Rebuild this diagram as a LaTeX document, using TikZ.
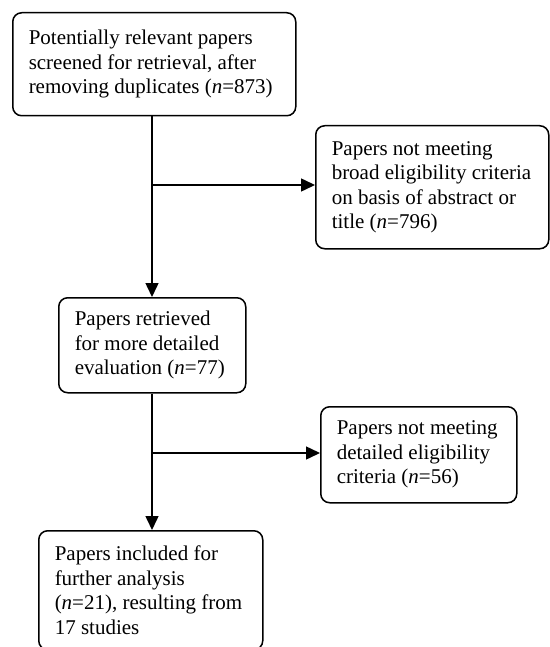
\documentclass[tikz,border=0pt]{standalone}
\usepackage{fontspec}
\setmainfont{Liberation Serif}
\usetikzlibrary{arrows.meta}

\begin{document}
\begin{tikzpicture}[x=1pt, y=-1pt, line width=1.5pt,
		box/.style={draw, rounded corners=9pt, anchor=north west, align=flush left,
			inner xsep=16pt, inner ysep=0pt,
			font=\fontsize{21}{24.5}\selectfont},
		arr/.style={-{Triangle[length=14pt, width=13pt]}}]
		\useasboundingbox (0, 0) rectangle (549, 647);
		
		\node[box, text width=251pt, minimum height=103pt] (screened) at (12, 12)
			{Potentially relevant papers\\screened for retrieval, after\\removing duplicates (\textit{n}=873)};
		\node[box, text width=201pt, minimum height=123pt] (broad) at (315, 125)
			{Papers not meeting\\broad eligibility criteria\\on basis of abstract or\\title (\textit{n}=796)};
		\node[box, text width=155pt, minimum height=95pt] (retrieved) at (58, 297)
			{Papers retrieved\\for more detailed\\evaluation (\textit{n}=77)};
		\node[box, text width=164pt, minimum height=96pt] (detailed) at (320, 406)
			{Papers not meeting\\detailed eligibility\\criteria (\textit{n}=56)};
		\node[box, text width=192pt, minimum height=119pt] (included) at (38, 530)
			{Papers included for\\further analysis\\(\textit{n}=21), resulting from\\17 studies};
		
		\coordinate (split1) at (152, 185);
		\coordinate (split2) at (152, 453);
		\draw[arr] (screened.south -| split1) -- (retrieved.north -| split1);
		\draw[arr] (split1) -- (split1 -| broad.west);
		\draw[arr] (retrieved.south -| split2) -- (included.north -| split2);
		\draw[arr] (split2) -- (split2 -| detailed.west);
	\end{tikzpicture}
\end{document}
